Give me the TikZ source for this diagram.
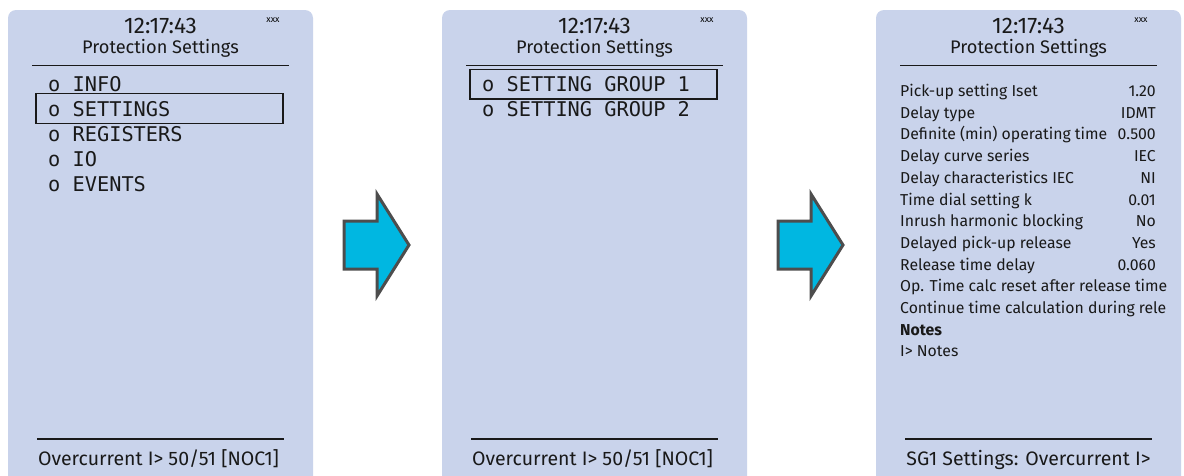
\documentclass[tikz,border=0pt]{standalone}
\usepackage{fontspec}
\setmainfont{Fira Sans}
\newfontfamily\lcdmono{DejaVu Sans Mono}
\definecolor{lcdbg}{RGB}{201,211,235}
\definecolor{arrowfill}{RGB}{0,183,225}
\definecolor{arrowline}{RGB}{77,77,77}
\newcommand{\hdr}{\fontsize{18.2}{22}\selectfont}
\newcommand{\clk}{\fontsize{22.5}{26}\selectfont}
\newcommand{\ftr}{\fontsize{19.5}{23}\selectfont}
\newcommand{\menu}{\lcdmono\fontsize{20.3}{24}\selectfont}
\newcommand{\lst}{\fontsize{15.8}{19}\selectfont}
\tikzset{
	panel/.style={fill=lcdbg,rounded corners=8pt},
	sep/.style={line width=1.6pt,black!90},
	selbox/.style={draw,line width=1.8pt,black!90},
	txt/.style={inner sep=0pt,anchor=base west,text=black!90},
	ctr/.style={inner sep=0pt,anchor=base,text=black!90,font=\hdr},
	bigarrow/.style={fill=arrowfill,draw=arrowline,line width=3pt,line join=miter},
}
\begin{document}
\begin{tikzpicture}[x=1pt,y=-1pt]
	\useasboundingbox (0,0) rectangle (1184,475);
	\foreach \s/\x in {A/8,B/442,C/876}{
			\fill[panel] (\x,10) rectangle ++(305,480);
			\draw (\x+152.5,33.5) node[ctr,font=\clk] (time\s) {12:17:43};
			\draw (\x+152.5,53) node[ctr] (title\s) {Protection Settings};
			\draw (\x+265,20.5) node[inner sep=0pt,font=\fontsize{9}{11}\selectfont] (xxx\s) {xxx};
			\draw[sep] (\x+24,65.5) -- (\x+281,65.5);
			\draw[sep] (\x+29,439) -- (\x+276,439);
		}
	\foreach \x in {344,778}{
			\draw[bigarrow] (\x,221) -- (\x+33,221) -- (\x+33,194) -- (\x+65,245)
				-- (\x+33,296) -- (\x+33,269) -- (\x,269) -- cycle;
		}
	\foreach \t [count=\i] in {INFO,SETTINGS,REGISTERS,IO,EVENTS}{
			\draw (48,66+25*\i) node[txt,font=\menu] (menu\i) {o \t};
		}
	\draw[selbox] (36,93.5) rectangle (283,123.5);
	\foreach \i in {1,2}{
			\draw (482,66+25*\i) node[txt,font=\menu] (group\i) {o SETTING GROUP \i};
		}
	\draw[selbox] (470,69.5) rectangle (717,99);
	\foreach \l/\v [count=\i] in {Pick-up setting Iset/1.20,Delay type/IDMT,
			Definite (min) operating time/0.500,Delay curve series/IEC,
			Delay characteristics IEC/NI,Time dial setting k/0.01,
			Inrush harmonic blocking/No,Delayed pick-up release/Yes,
			Release time delay/0.060}{
			\draw (900,74.8+21.7*\i) node[txt,font=\lst] (par\i) {\l};
			\draw (1156,74.8+21.7*\i) node[txt,anchor=base east,font=\lst] (val\i) {\v};
		}
	\draw (900,74.8+21.7*10) node[txt,font=\lst] (par10) {Op. Time calc reset after release time};
	\draw (900,74.8+21.7*11) node[txt,font=\lst] (par11) {Continue time calculation during rele};
	\draw (900,74.8+21.7*12) node[txt,font=\lst\bfseries] (notes) {Notes};
	\draw (900,74.8+21.7*13) node[txt,font=\lst] (notesI) {I> Notes};
	\draw (158.5,465) node[ctr,font=\ftr] (footA) {Overcurrent I> 50/51 [NOC1]};
	\draw (592.5,465) node[ctr,font=\ftr] (footB) {Overcurrent I> 50/51 [NOC1]};
	\draw (1028.5,465) node[ctr,font=\ftr] (footC) {SG1 Settings: Overcurrent I>};
\end{tikzpicture}
\end{document}
